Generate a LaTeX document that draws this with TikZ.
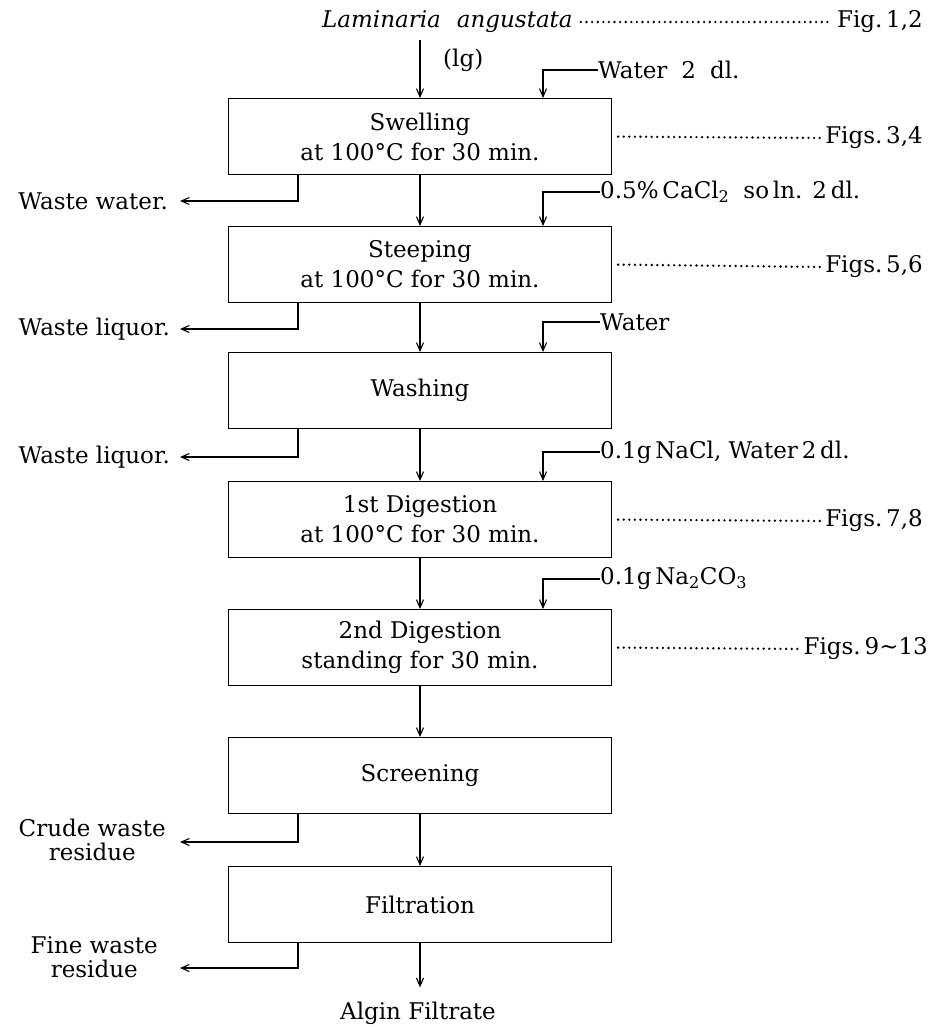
\documentclass[tikz,border=0pt]{standalone}
\usepackage{fontspec}
\setmainfont{DejaVu Serif}
\usetikzlibrary{arrows.meta,calc}
\begin{document}
\begin{tikzpicture}[x=1pt,y=-1pt,
  every node/.style={font=\fontsize{23}{30}\selectfont, inner sep=0pt},
  stepbox/.style={draw, line width=1.2pt, minimum width=383pt, minimum height=76pt, anchor=north, align=center},
  flow/.style={line width=1.1pt, -{Straight Barb[length=8pt,width=7pt]}},
  dots/.style={line width=2.6pt, line cap=round, dash pattern=on 0pt off 5.6pt},
  twoline/.style={align=center, font=\fontsize{23}{24}\selectfont},
]
\useasboundingbox (0,0) rectangle (932,1027);

% title
\node[anchor=west, font=\fontsize{23}{30}\selectfont\itshape] (src) at (322,22) {Laminaria\hspace{16pt}angustata};
\node[anchor=east] (f12) at (923,22) {Fig.\,1,2};
\draw[dots] ($(src.east)+(8,0)$) -- ($(f12.west)+(-4,0)$);
\coordinate (s0) at (420,40);
\node[anchor=west] (lg) at (443,60) {(lg)};

% boxes
\node[stepbox] (b1) at (420,98)  {Swelling\\at 100°C for 30 min.};
\node[stepbox] (b2) at (420,226) {Steeping\\at 100°C for 30 min.};
\node[stepbox] (b3) at (420,352) {Washing};
\node[stepbox] (b4) at (420,481) {1st Digestion\\at 100°C for 30 min.};
\node[stepbox] (b5) at (420,609) {2nd Digestion\\standing for 30 min.};
\node[stepbox] (b6) at (420,737) {Screening};
\node[stepbox] (b7) at (420,866) {Filtration};
\node[anchor=base] (alg) at (418,1019) {Algin Filtrate};

% main flow
\draw[flow] (s0) -- (b1.north);
\draw[flow] (b1.south) -- (b2.north);
\draw[flow] (b2.south) -- (b3.north);
\draw[flow] (b3.south) -- (b4.north);
\draw[flow] (b4.south) -- (b5.north);
\draw[flow] (b5.south) -- (b6.north);
\draw[flow] (b6.south) -- (b7.north);
\draw[flow] (b7.south) -- ($(alg.north -| b7.south)+(0,-14)$);

% inputs
\node[anchor=west] (in1) at (598,70)  {Water\hspace{14pt}2\hspace{14pt}dl.};
\node[anchor=west] (in2) at (600,192) {0.5\%\,CaCl\textsubscript{2}\hspace{14pt}so\,ln.\hspace{10pt}2\,dl.};
\node[anchor=west] (in3) at (600,322) {Water};
\node[anchor=west] (in4) at (600,452) {0.1g\,NaCl, Water\,2\,dl.};
\node[anchor=west] (in5) at (600,579) {0.1g\,Na\textsubscript{2}CO\textsubscript{3}};
\draw[flow] (in1.west) -| ($(b1.north)+(123,0)$);
\draw[flow] (in2.west) -| ($(b2.north)+(123,0)$);
\draw[flow] (in3.west) -| ($(b3.north)+(123,0)$);
\draw[flow] (in4.west) -| ($(b4.north)+(123,0)$);
\draw[flow] (in5.west) -| ($(b5.north)+(123,0)$);

% wastes
\node[anchor=east] (o1) at (168,201) {Waste water.};
\node[anchor=east] (o2) at (170,329) {Waste liquor.};
\node[anchor=east] (o3) at (170,457) {Waste liquor.};
\node[twoline, anchor=east] (o6) at (166,840) {Crude waste\\residue};
\node[twoline, anchor=east] (o7) at (158,957) {Fine waste\\residue};
\draw[flow] ($(b1.south)+(-122,0)$) |- ($(o1.east)+(12,0)$);
\draw[flow] ($(b2.south)+(-122,0)$) |- ($(o2.east)+(10,0)$);
\draw[flow] ($(b3.south)+(-122,0)$) |- ($(o3.east)+(10,0)$);
\draw[flow] ($(b6.south)+(-122,0)$) |- ($(o6.east)+(14,2)$);
\draw[flow] ($(b7.south)+(-122,0)$) |- ($(o7.east)+(22,11)$);

% figure references
\node[anchor=east] (f34) at (923,138) {Figs.\,3,4};
\node[anchor=east] (f56) at (923,267) {Figs.\,5,6};
\node[anchor=east] (f78) at (923,521) {Figs.\,7,8};
\node[anchor=east] (f913) at (928,649) {Figs.\,9∼13};
\draw[dots] ($(b1.east)+(6,0)$ |- f34.west) -- ($(f34.west)+(-4,0)$);
\draw[dots] ($(b2.east)+(6,0)$ |- f56.west) -- ($(f56.west)+(-4,0)$);
\draw[dots] ($(b4.east)+(6,0)$ |- f78.west) -- ($(f78.west)+(-4,0)$);
\draw[dots] ($(b5.east)+(6,0)$ |- f913.west) -- ($(f913.west)+(-4,0)$);
\end{tikzpicture}
\end{document}
